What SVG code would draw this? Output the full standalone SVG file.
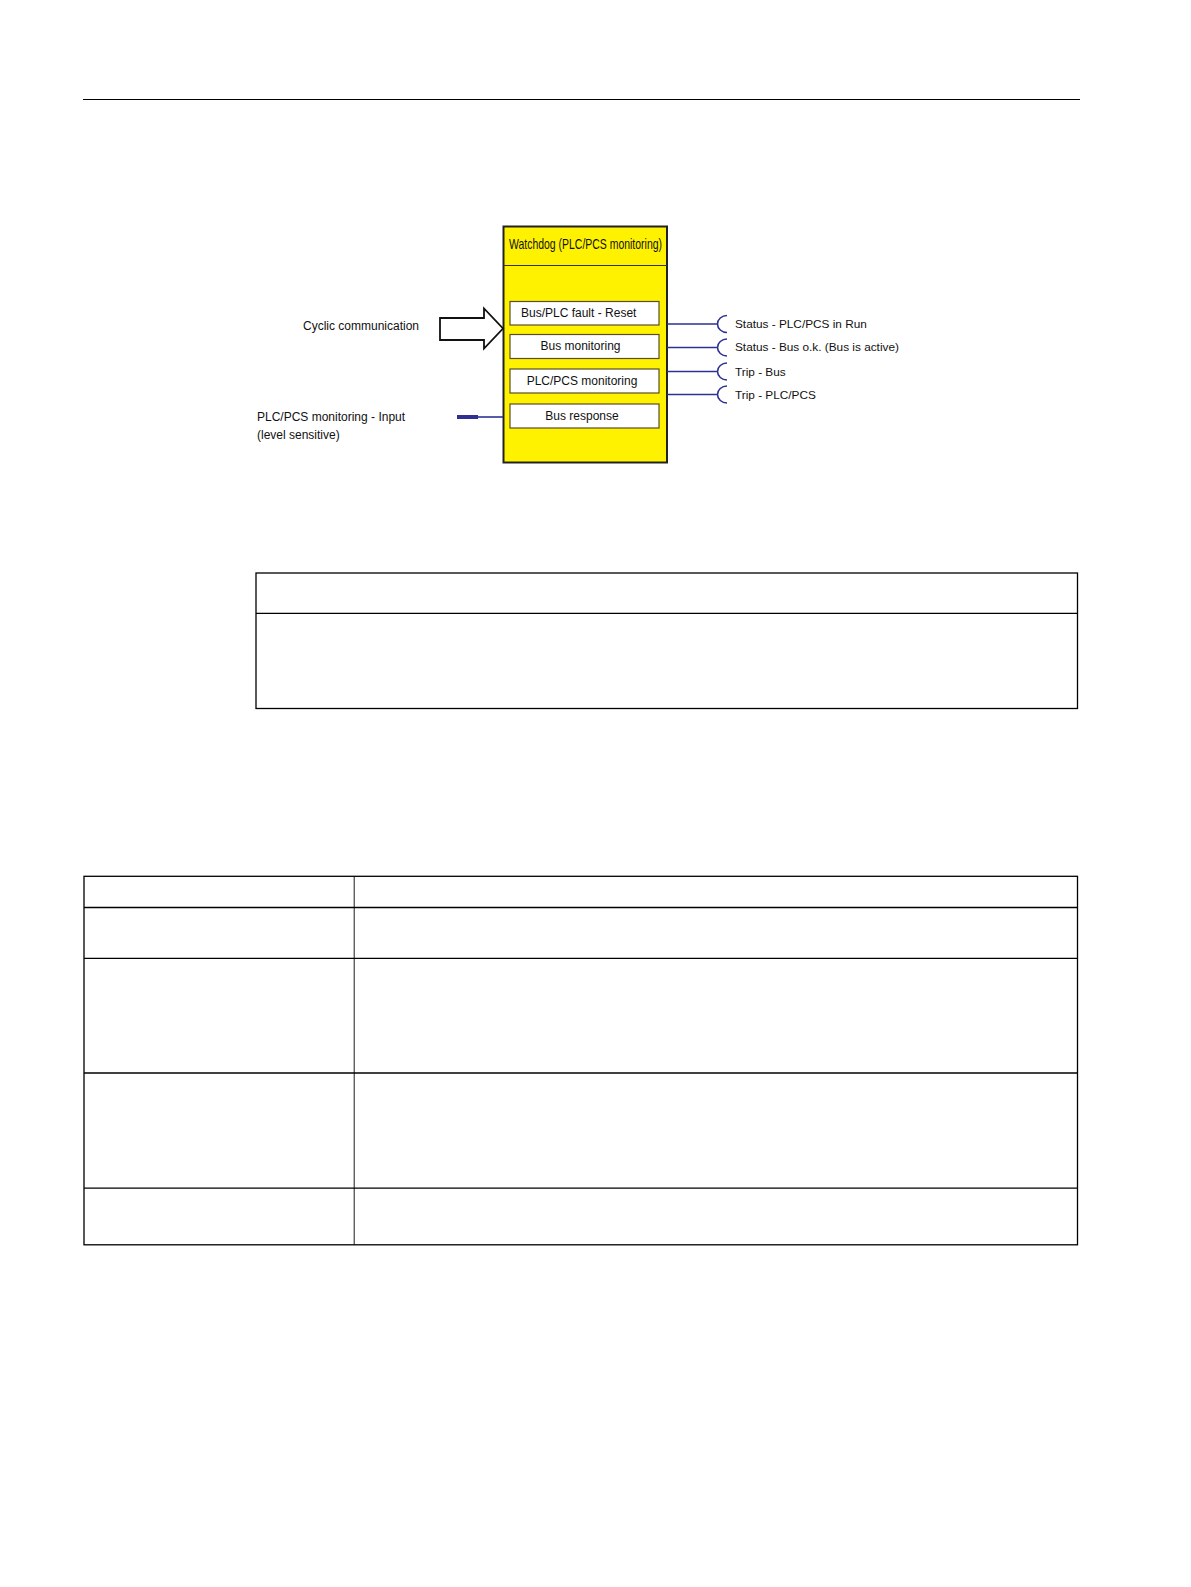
<svg xmlns="http://www.w3.org/2000/svg" width="1191" height="1587" viewBox="0 0 1191 1587">
<style>
text{font-family:"Liberation Sans",Arial,sans-serif;font-size:12px;fill:#111}
.c{text-anchor:middle}
.o{font-size:11.8px}
.inner{fill:#fff;stroke:#5a4e2a;stroke-width:1.2}
.blue{stroke:#2e3192;stroke-width:1.6;fill:none}
.tb{fill:none;stroke:#000;stroke-width:1.3}
.tl{stroke:#000;stroke-width:1.3}
.tv{stroke:#000;stroke-width:0.9}
</style>
<rect width="1191" height="1587" fill="#fff"/>
<line x1="83" y1="99.5" x2="1080" y2="99.5" stroke="#000" stroke-width="1"/>

<g id="watchdog">
<rect x="503.5" y="226.5" width="163.5" height="236" fill="#fff200" stroke="#222" stroke-width="2"/>
<line x1="503.5" y1="265.5" x2="667" y2="265.5" stroke="#333" stroke-width="1"/>
<text x="585.5" y="248.5" class="c" style="font-size:14.5px" textLength="153" lengthAdjust="spacingAndGlyphs">Watchdog (PLC/PCS monitoring)</text>
</g>
<g id="box-reset"><rect class="inner" x="510" y="301.5" width="149" height="23.5"/><text x="521" y="317">Bus/PLC fault - Reset</text></g>
<g id="box-busmon"><rect class="inner" x="510" y="334.5" width="149" height="24"/><text x="580.5" y="350" class="c">Bus monitoring</text></g>
<g id="box-plcmon"><rect class="inner" x="510" y="369" width="149" height="24"/><text x="582" y="385" class="c">PLC/PCS monitoring</text></g>
<g id="box-busresp"><rect class="inner" x="510" y="404" width="149" height="24"/><text x="582" y="420" class="c">Bus response</text></g>

<g id="cyclic">
<text x="303" y="330">Cyclic communication</text>
</g>
<g id="plc-input">
<text x="257" y="421">PLC/PCS monitoring - Input</text>
<text x="257" y="439">(level sensitive)</text>
</g>
<g id="out-run"><text class="o" x="735" y="327.5">Status - PLC/PCS in Run</text></g>
<g id="out-busok"><text class="o" x="735" y="351">Status - Bus o.k. (Bus is active)</text></g>
<g id="out-tripbus"><text class="o" x="735" y="376">Trip - Bus</text></g>
<g id="out-tripplc"><text class="o" x="735" y="398.5">Trip - PLC/PCS</text></g>

<g id="connectors">
<path d="M440 318 H484 V308.5 L503 328.5 L484 348.5 V340 H440 Z" fill="#fff" stroke="#111" stroke-width="1.8" stroke-linejoin="miter"/>
<line x1="457" y1="417" x2="478" y2="417" stroke="#2e3192" stroke-width="4"/>
<line class="blue" x1="478" y1="417" x2="503" y2="417"/>
<path class="blue" d="M667 324 H717.5 M727 315.5 A9.5 8.5 0 0 0 727 332.5"/>
<path class="blue" d="M667 347.5 H717.5 M727 339 A9.5 8.5 0 0 0 727 356"/>
<path class="blue" d="M667 371.5 H717.5 M727 363 A9.5 8.5 0 0 0 727 380"/>
<path class="blue" d="M667 394.5 H717.5 M727 386 A9.5 8.5 0 0 0 727 403"/>
</g>

<g id="table1">
<rect class="tb" x="256" y="573" width="821.5" height="135.5"/>
<line class="tl" x1="256" y1="613.3" x2="1077.5" y2="613.3"/>
</g>

<g id="table2">
<rect class="tb" x="84" y="876.3" width="993.5" height="368.5"/>
<line class="tl" x1="84" y1="907.5" x2="1077.5" y2="907.5"/>
<line class="tl" x1="84" y1="958.3" x2="1077.5" y2="958.3"/>
<line class="tl" x1="84" y1="1073" x2="1077.5" y2="1073"/>
<line class="tl" x1="84" y1="1188.2" x2="1077.5" y2="1188.2"/>
<line class="tv" x1="354.2" y1="876.3" x2="354.2" y2="1244.8"/>
</g>
</svg>
